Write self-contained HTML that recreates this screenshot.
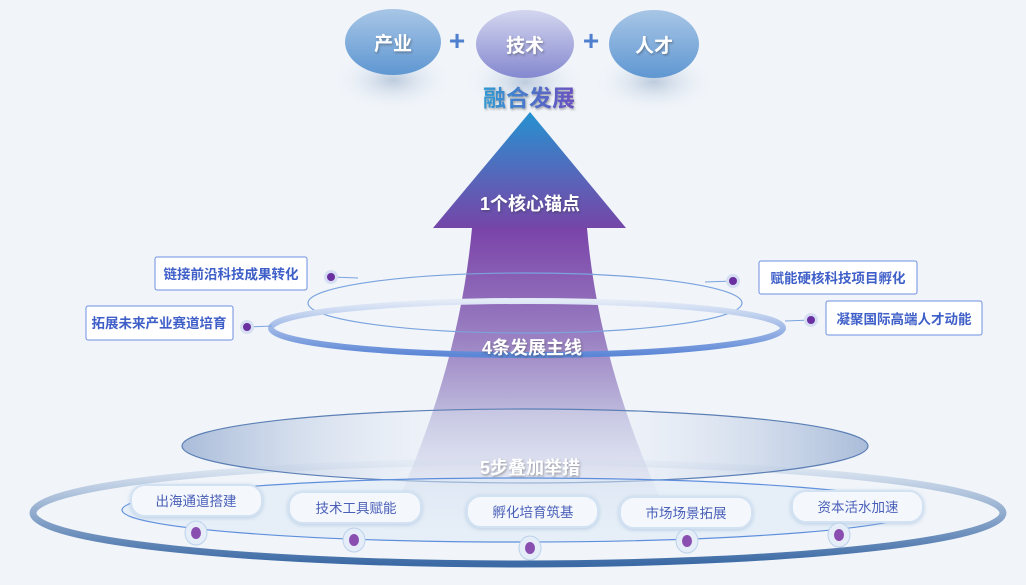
<!DOCTYPE html>
<html><head><meta charset="utf-8"><style>
html,body{margin:0;padding:0;width:1026px;height:585px;overflow:hidden;background:#f1f5fa;}
svg{display:block}
text{font-family:"Liberation Sans","Noto Sans CJK SC",sans-serif;font-weight:bold}
</style></head><body>
<svg width="1026" height="585" viewBox="0 0 1026 585" xmlns="http://www.w3.org/2000/svg">
<defs>
<linearGradient id="head" x1="0" y1="0" x2="0" y2="1"><stop offset="0" stop-color="#2592d0"/><stop offset="0.6" stop-color="#5a63b8"/><stop offset="1" stop-color="#7446a8"/></linearGradient>
<linearGradient id="shaft" x1="0" y1="0" x2="0" y2="1"><stop offset="0" stop-color="#7a43a8"/><stop offset="0.35" stop-color="#9a80c2"/><stop offset="0.65" stop-color="#c5c6e2"/><stop offset="1" stop-color="#e6ebf5" stop-opacity="0"/></linearGradient>
<linearGradient id="ov1" x1="0" y1="0" x2="0" y2="1"><stop offset="0" stop-color="#a8c6e6"/><stop offset="1" stop-color="#5f97d2"/></linearGradient>
<linearGradient id="ov2" x1="0" y1="0" x2="0" y2="1"><stop offset="0" stop-color="#d4d6ef"/><stop offset="1" stop-color="#8488cf"/></linearGradient>
<linearGradient id="ring" x1="0" y1="0" x2="0" y2="1"><stop offset="0" stop-color="#e3ebf7"/><stop offset="1" stop-color="#5c86d6"/></linearGradient>
<linearGradient id="bring" x1="0" y1="0" x2="0" y2="1"><stop offset="0" stop-color="#e6edf6"/><stop offset="1" stop-color="#3c6aa5"/></linearGradient>
<linearGradient id="disc" x1="0" y1="0" x2="1" y2="0"><stop offset="0" stop-color="#a9bcd9"/><stop offset="0.35" stop-color="#e3e9f4" stop-opacity="0.3"/><stop offset="0.65" stop-color="#e3e9f4" stop-opacity="0.3"/><stop offset="1" stop-color="#a9bcd9"/></linearGradient>
<linearGradient id="txt" x1="0" y1="0" x2="1" y2="0"><stop offset="0" stop-color="#2f9ad2"/><stop offset="1" stop-color="#6a4fc0"/></linearGradient>
<radialGradient id="sh"><stop offset="0" stop-color="#bccbdd"/><stop offset="1" stop-color="#f1f5fa" stop-opacity="0"/></radialGradient>
<filter id="ds"><feDropShadow dx="1" dy="1.5" stdDeviation="1" flood-color="#333" flood-opacity="0.4"/></filter>
<filter id="ps"><feDropShadow dx="0" dy="1" stdDeviation="2" flood-color="#9ab6d6" flood-opacity="0.6"/></filter>
</defs>
<ellipse cx="393" cy="80" rx="62" ry="32" fill="url(#sh)"/>
<ellipse cx="525" cy="82" rx="62" ry="32" fill="url(#sh)"/>
<ellipse cx="654" cy="82" rx="62" ry="32" fill="url(#sh)"/>
<ellipse cx="393" cy="42" rx="48" ry="33" fill="url(#ov1)"/>
<ellipse cx="525" cy="44" rx="49" ry="34" fill="url(#ov2)"/>
<ellipse cx="654" cy="44" rx="45" ry="34" fill="url(#ov1)"/>
<text x="393" y="50" font-size="19" fill="#fff" text-anchor="middle" filter="url(#ds)">产业</text>
<text x="525" y="52" font-size="19" fill="#fff" text-anchor="middle" filter="url(#ds)">技术</text>
<text x="654" y="52" font-size="19" fill="#fff" text-anchor="middle" filter="url(#ds)">人才</text>
<text x="457" y="50" font-size="28" fill="#4f7fcf" text-anchor="middle">+</text>
<text x="591" y="50" font-size="28" fill="#4f7fcf" text-anchor="middle">+</text>
<text x="529" y="106" font-size="23" fill="url(#txt)" text-anchor="middle" filter="url(#ds)">融合发展</text>

<ellipse cx="518" cy="513" rx="485" ry="51" fill="none" stroke="url(#bring)" stroke-width="7"/>
<path d="M472 228 L587 228 Q600 380 680 540 L380 540 Q458 380 472 228Z" fill="url(#shaft)"/>
<ellipse cx="525" cy="446" rx="343" ry="37" fill="url(#disc)" stroke="#5c7fb5" stroke-width="1.2"/>
<path d="M530 112 L626 228 L433 228Z" fill="url(#head)"/>
<text x="530" y="210" font-size="18" fill="#fff" text-anchor="middle" filter="url(#ds)">1个核心锚点</text>
<ellipse cx="525" cy="303" rx="217" ry="30" fill="none" stroke="#7aa3de" stroke-width="1.2"/>
<ellipse cx="527" cy="328" rx="256" ry="27" fill="none" stroke="url(#ring)" stroke-width="6"/>
<text x="532" y="354" font-size="18" fill="#fff" text-anchor="middle" filter="url(#ds)">4条发展主线</text>
<text x="530" y="474" font-size="18" fill="#fff" text-anchor="middle" filter="url(#ds)">5步叠加举措</text>
<ellipse cx="520" cy="510" rx="398" ry="32" fill="#dbe9f6" fill-opacity="0.5" stroke="#5f8fdc" stroke-width="1.2"/>

<g font-size="13.5" fill="#3f5fc8">
<line x1="331" y1="277" x2="358" y2="278" stroke="#7aa3de"/>
<rect x="155" y="257" width="152" height="33" rx="2" fill="#fff" stroke="#6d8fe0"/>
<text x="231" y="279" text-anchor="middle">链接前沿科技成果转化</text>
<circle cx="331" cy="277" r="7" fill="#d6def3"/><circle cx="331" cy="277" r="4" fill="#6a2fa0"/>
<line x1="247" y1="327" x2="272" y2="326" stroke="#7aa3de"/>
<rect x="86" y="306" width="147" height="34" rx="2" fill="#fff" stroke="#6d8fe0"/>
<text x="159" y="328" text-anchor="middle">拓展未来产业赛道培育</text>
<circle cx="247" cy="327" r="7" fill="#d6def3"/><circle cx="247" cy="327" r="4" fill="#6a2fa0"/>
<line x1="705" y1="282" x2="733" y2="281" stroke="#7aa3de"/>
<rect x="759" y="261" width="158" height="33" rx="2" fill="#fff" stroke="#6d8fe0"/>
<text x="838" y="283" text-anchor="middle">赋能硬核科技项目孵化</text>
<circle cx="733" cy="281" r="7" fill="#d6def3"/><circle cx="733" cy="281" r="4" fill="#6a2fa0"/>
<line x1="785" y1="321" x2="811" y2="320" stroke="#7aa3de"/>
<rect x="826" y="301" width="156" height="34" rx="2" fill="#fff" stroke="#6d8fe0"/>
<text x="904" y="324" text-anchor="middle">凝聚国际高端人才动能</text>
<circle cx="811" cy="320" r="7" fill="#d6def3"/><circle cx="811" cy="320" r="4" fill="#6a2fa0"/>
</g>

<g font-size="13.5" fill="#4a5fb8" filter="url(#ps)">
<rect x="131" y="485" width="131" height="31" rx="14" fill="#f4f8fd" stroke="#d3e2f2" stroke-width="2"/>
<rect x="289" y="492" width="132" height="31" rx="14" fill="#f4f8fd" stroke="#d3e2f2" stroke-width="2"/>
<rect x="467" y="496" width="131" height="31" rx="14" fill="#f4f8fd" stroke="#d3e2f2" stroke-width="2"/>
<rect x="620" y="497" width="132" height="31" rx="14" fill="#f4f8fd" stroke="#d3e2f2" stroke-width="2"/>
<rect x="792" y="491" width="131" height="31" rx="14" fill="#f4f8fd" stroke="#d3e2f2" stroke-width="2"/>
</g>
<g font-size="13.5" fill="#4a5fb8">
<text x="196" y="506" text-anchor="middle" style="font-weight:normal">出海通道搭建</text>
<text x="356" y="513" text-anchor="middle" style="font-weight:normal">技术工具赋能</text>
<text x="533" y="517" text-anchor="middle" style="font-weight:normal">孵化培育筑基</text>
<text x="686" y="518" text-anchor="middle" style="font-weight:normal">市场场景拓展</text>
<text x="858" y="512" text-anchor="middle" style="font-weight:normal">资本活水加速</text>
</g>
<g fill="#e4edf8" stroke="#bcd2ea">
<ellipse cx="196" cy="533" rx="11" ry="12"/><ellipse cx="354" cy="540" rx="11" ry="12"/><ellipse cx="530" cy="548" rx="11" ry="12"/><ellipse cx="687" cy="541" rx="11" ry="12"/><ellipse cx="839" cy="535" rx="11" ry="12"/>
</g>
<g fill="#8a4db0">
<ellipse cx="196" cy="533" rx="5" ry="6"/><ellipse cx="354" cy="540" rx="5" ry="6"/><ellipse cx="530" cy="548" rx="5" ry="6"/><ellipse cx="687" cy="541" rx="5" ry="6"/><ellipse cx="839" cy="535" rx="5" ry="6"/>
</g>
</svg>
</body></html>
